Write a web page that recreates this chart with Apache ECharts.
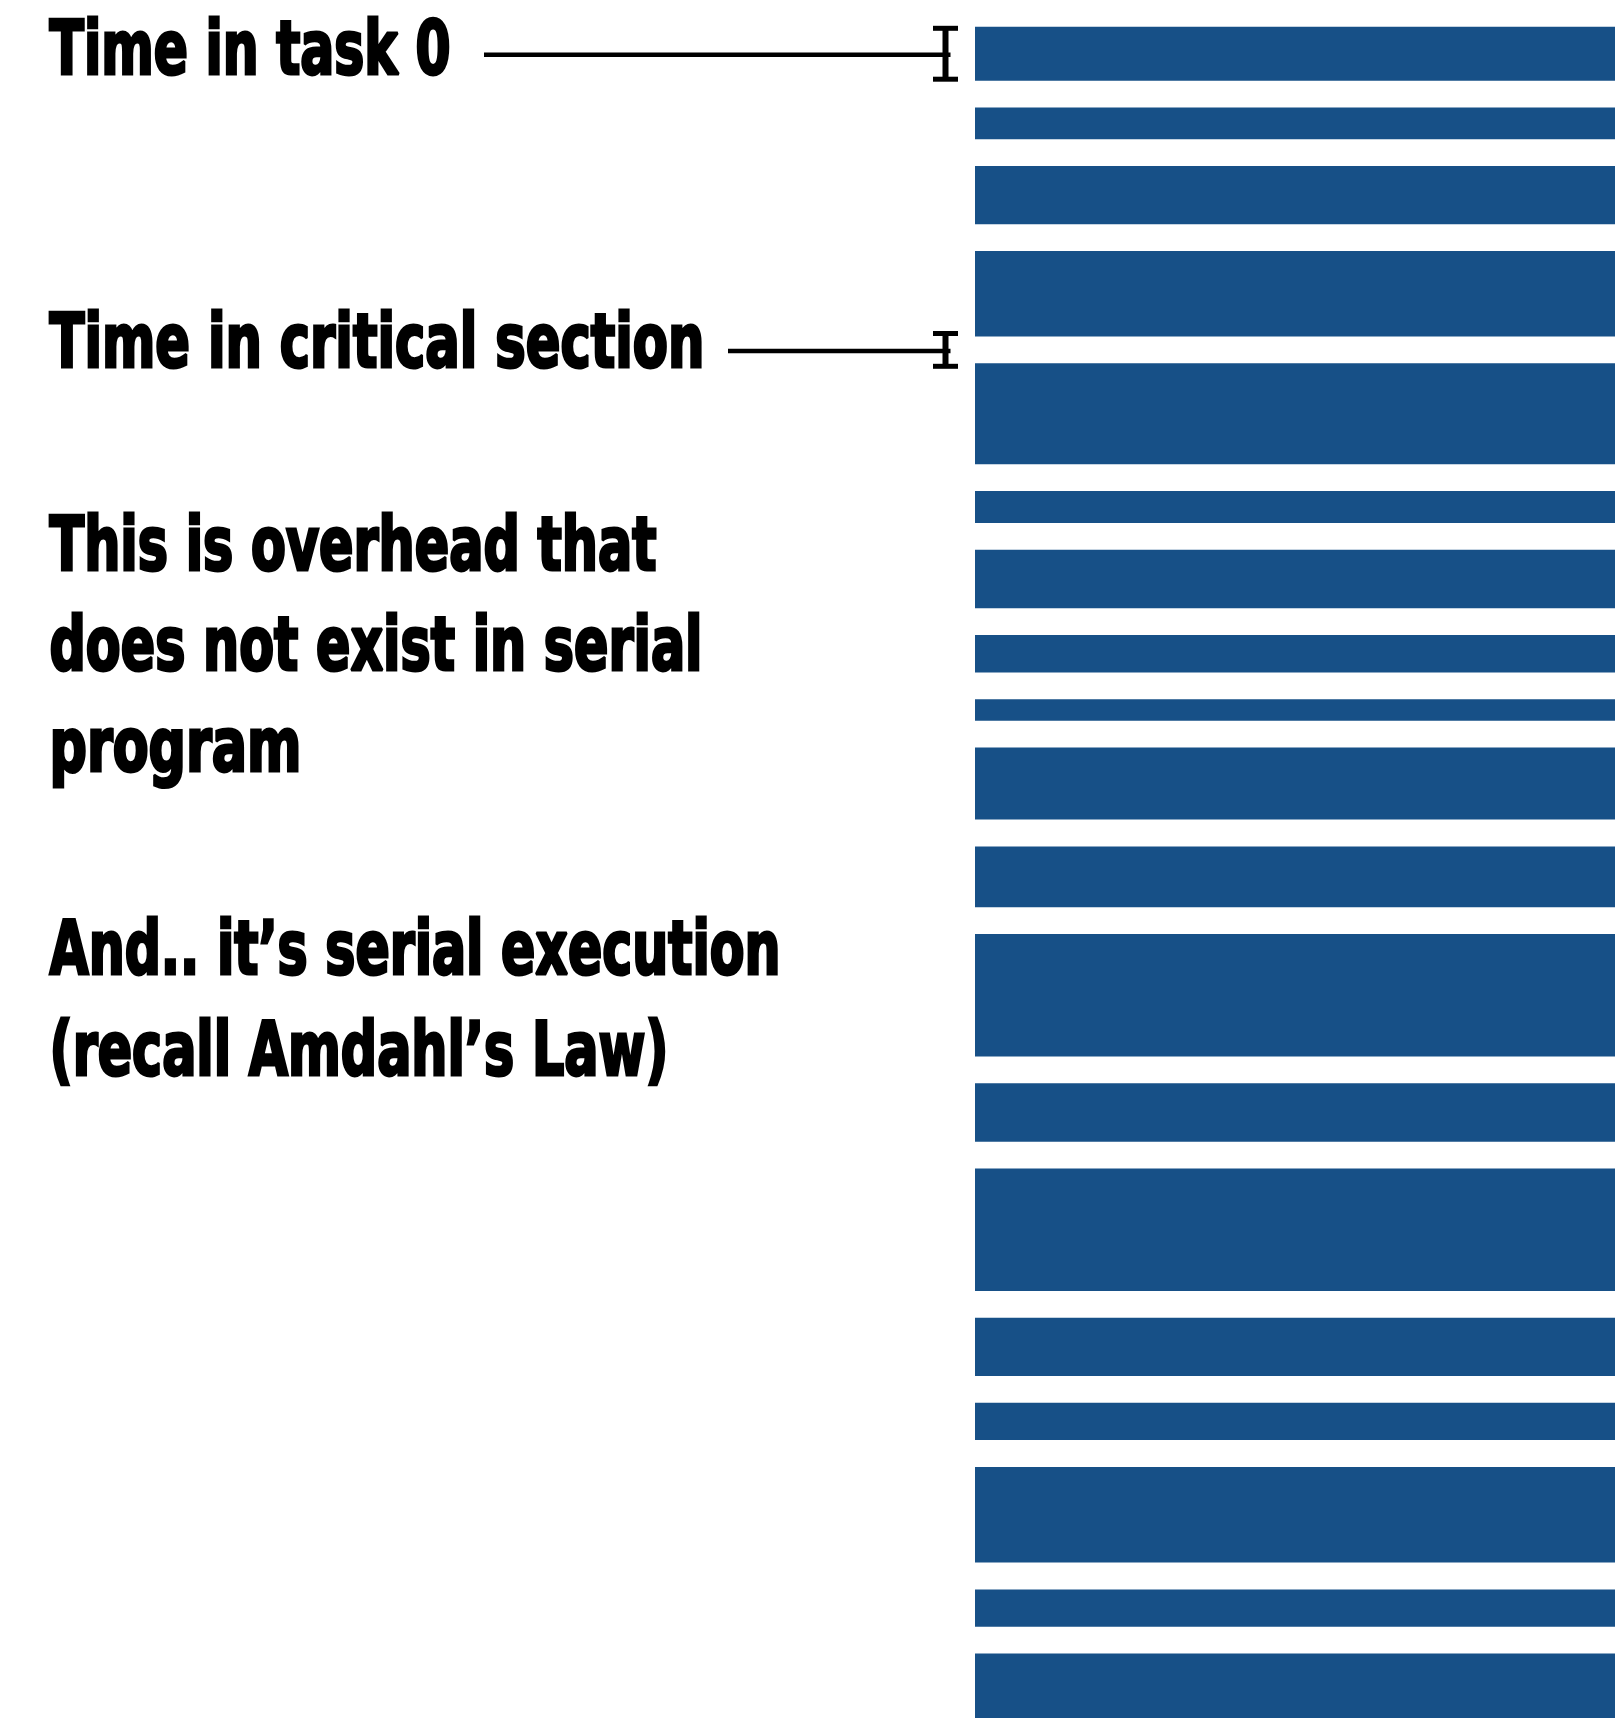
<!DOCTYPE html>
<html>
<head>
<meta charset="utf-8">
<script src="https://cdn.jsdelivr.net/npm/echarts@6/dist/echarts.min.js"></script>
<style>
html,body{margin:0;padding:0;background:#ffffff;}
#chart{width:1615px;height:1718px;}
</style>
</head>
<body>
<div id="chart"></div>
<script>
// ---------------- data ----------------
// Duration of each task executed between critical sections (time units)
const taskDurations = [53.9, 31.8, 58.2, 85.4, 101.0, 31.8, 58.5, 37.5, 21.5, 72.0,
                       60.8, 122.5, 58.5, 122.3, 58.3, 37.3, 95.7, 37.3, 80.0];
// Constant time spent in the critical section before each task
const criticalSectionTime = 26.8;
// Visible time window
const timeWindowStart = 0;
const timeWindowEnd = 1718;

const annotationLabels = ['Time in task 0', 'Time in critical section'];
const noteLines = ['This is overhead that', 'does not exist in serial', 'program',
                   'And.. it\u2019s serial execution', '(recall Amdahl\u2019s Law)'];

// ---------------- derived intervals ----------------
const taskIntervals = [];
const criticalIntervals = [];
(function () {
  let t = timeWindowStart;
  taskDurations.forEach(function (d) {
    criticalIntervals.push([t, t + criticalSectionTime]);
    t += criticalSectionTime;
    taskIntervals.push([t, t + d]);
    t += d;
  });
})();
const annotatedIntervals = [taskIntervals[0], criticalIntervals[4]];

// ---------------- styling / layout ----------------
const BAR_COLOR = '#175087';
const INK = '#000000';
const FONT_FAMILY = '"Liberation Sans Narrow","Arial Narrow","DejaVu Sans Condensed","Liberation Sans",sans-serif';
const STROKE_W = 3;
const CAP_HEIGHT = 58 - STROKE_W;
const TEXT_LEFT = 48 + STROKE_W / 2;
const annotLineStart = [484, 728];
const annotPad = [-1.5, 3];

const textLayout = [
  { text: annotationLabels[0], capTop: 17.3, width: 404 },
  { text: annotationLabels[1], capTop: 310.3, width: 658 },
  { text: noteLines[0], capTop: 513, width: 610 },
  { text: noteLines[1], capTop: 613, width: 656 },
  { text: noteLines[2], capTop: 714, width: 255 },
  { text: noteLines[3], capTop: 917, width: 734 },
  { text: noteLines[4], capTop: 1018, width: 622 }
];

const ctx = document.createElement('canvas').getContext('2d');
function measure(fs, str) {
  ctx.font = 'bold ' + fs + 'px ' + FONT_FAMILY;
  ctx.textBaseline = 'middle';
  return ctx.measureText(str);
}
const m100 = measure(100, 'T');
const capRatio = (m100.actualBoundingBoxAscent + m100.actualBoundingBoxDescent) / 100;
const FONT_SIZE = CAP_HEIGHT / capRatio;
const ascMid = measure(FONT_SIZE, 'T').actualBoundingBoxAscent;

const textGraphics = textLayout.map(function (l) {
  const w = measure(FONT_SIZE, l.text).width;
  return {
    type: 'text',
    x: TEXT_LEFT,
    y: l.capTop + STROKE_W / 2 + ascMid,
    scaleX: (l.width - STROKE_W) / w,
    silent: true,
    style: {
      text: l.text,
      fill: INK,
      stroke: INK,
      lineWidth: STROKE_W,
      lineJoin: 'round',
      font: 'bold ' + FONT_SIZE + 'px ' + FONT_FAMILY,
      align: 'left',
      verticalAlign: 'middle',
      textAlign: 'left',
      textVerticalAlign: 'middle'
    }
  };
});

function renderBar(params, api) {
  const s = api.coord([0, api.value(1)]);
  const e = api.coord([1, api.value(2)]);
  const cs = params.coordSys;
  const rect = echarts.graphic.clipRectByRect(
    { x: s[0], y: s[1], width: e[0] - s[0], height: e[1] - s[1] },
    { x: cs.x, y: cs.y, width: cs.width, height: cs.height }
  );
  if (!rect) return null;
  return { type: 'rect', shape: rect, style: { fill: BAR_COLOR } };
}

function renderAnnotation(params, api) {
  const idx = params.dataIndex;
  const a = api.coord([0, api.value(1)]);
  const b = api.coord([0, api.value(2)]);
  const pad = annotPad[idx];
  const stemX = a[0] - 29.5;
  const yTop = a[1] - pad;
  const yBot = b[1] + pad;
  const yMid = (a[1] + b[1]) / 2 + 1;
  const capW = 25, capH = 5, stemW = 6;
  return {
    type: 'group',
    children: [
      { type: 'line', shape: { x1: annotLineStart[idx], y1: yMid, x2: stemX + 5, y2: yMid },
        style: { stroke: INK, lineWidth: 4.5 } },
      { type: 'rect', shape: { x: stemX - stemW / 2, y: yTop, width: stemW, height: yBot - yTop },
        style: { fill: INK } },
      { type: 'rect', shape: { x: stemX - capW / 2, y: yTop - capH / 2, width: capW, height: capH },
        style: { fill: INK } },
      { type: 'rect', shape: { x: stemX - capW / 2, y: yBot - capH / 2, width: capW, height: capH },
        style: { fill: INK } }
    ]
  };
}

const chart = echarts.init(document.getElementById('chart'), null, { renderer: 'canvas' });
chart.setOption({
  animation: false,
  backgroundColor: '#ffffff',
  grid: { left: 975, right: 0, top: 0, bottom: 0, containLabel: false },
  xAxis: { type: 'value', min: 0, max: 1, show: false },
  yAxis: { type: 'value', inverse: true, min: timeWindowStart, max: timeWindowEnd, show: false },
  graphic: textGraphics,
  series: [
    {
      type: 'custom',
      name: 'Task execution',
      renderItem: renderBar,
      encode: { x: 0, y: [1, 2] },
      data: taskIntervals.map(function (iv) { return [0, iv[0], iv[1]]; }),
      clip: true,
      silent: true
    },
    {
      type: 'custom',
      name: 'Annotations',
      renderItem: renderAnnotation,
      encode: { x: 0, y: [1, 2] },
      data: annotatedIntervals.map(function (iv) { return [0, iv[0], iv[1]]; }),
      clip: false,
      silent: true
    }
  ]
});
</script>
</body>
</html>
